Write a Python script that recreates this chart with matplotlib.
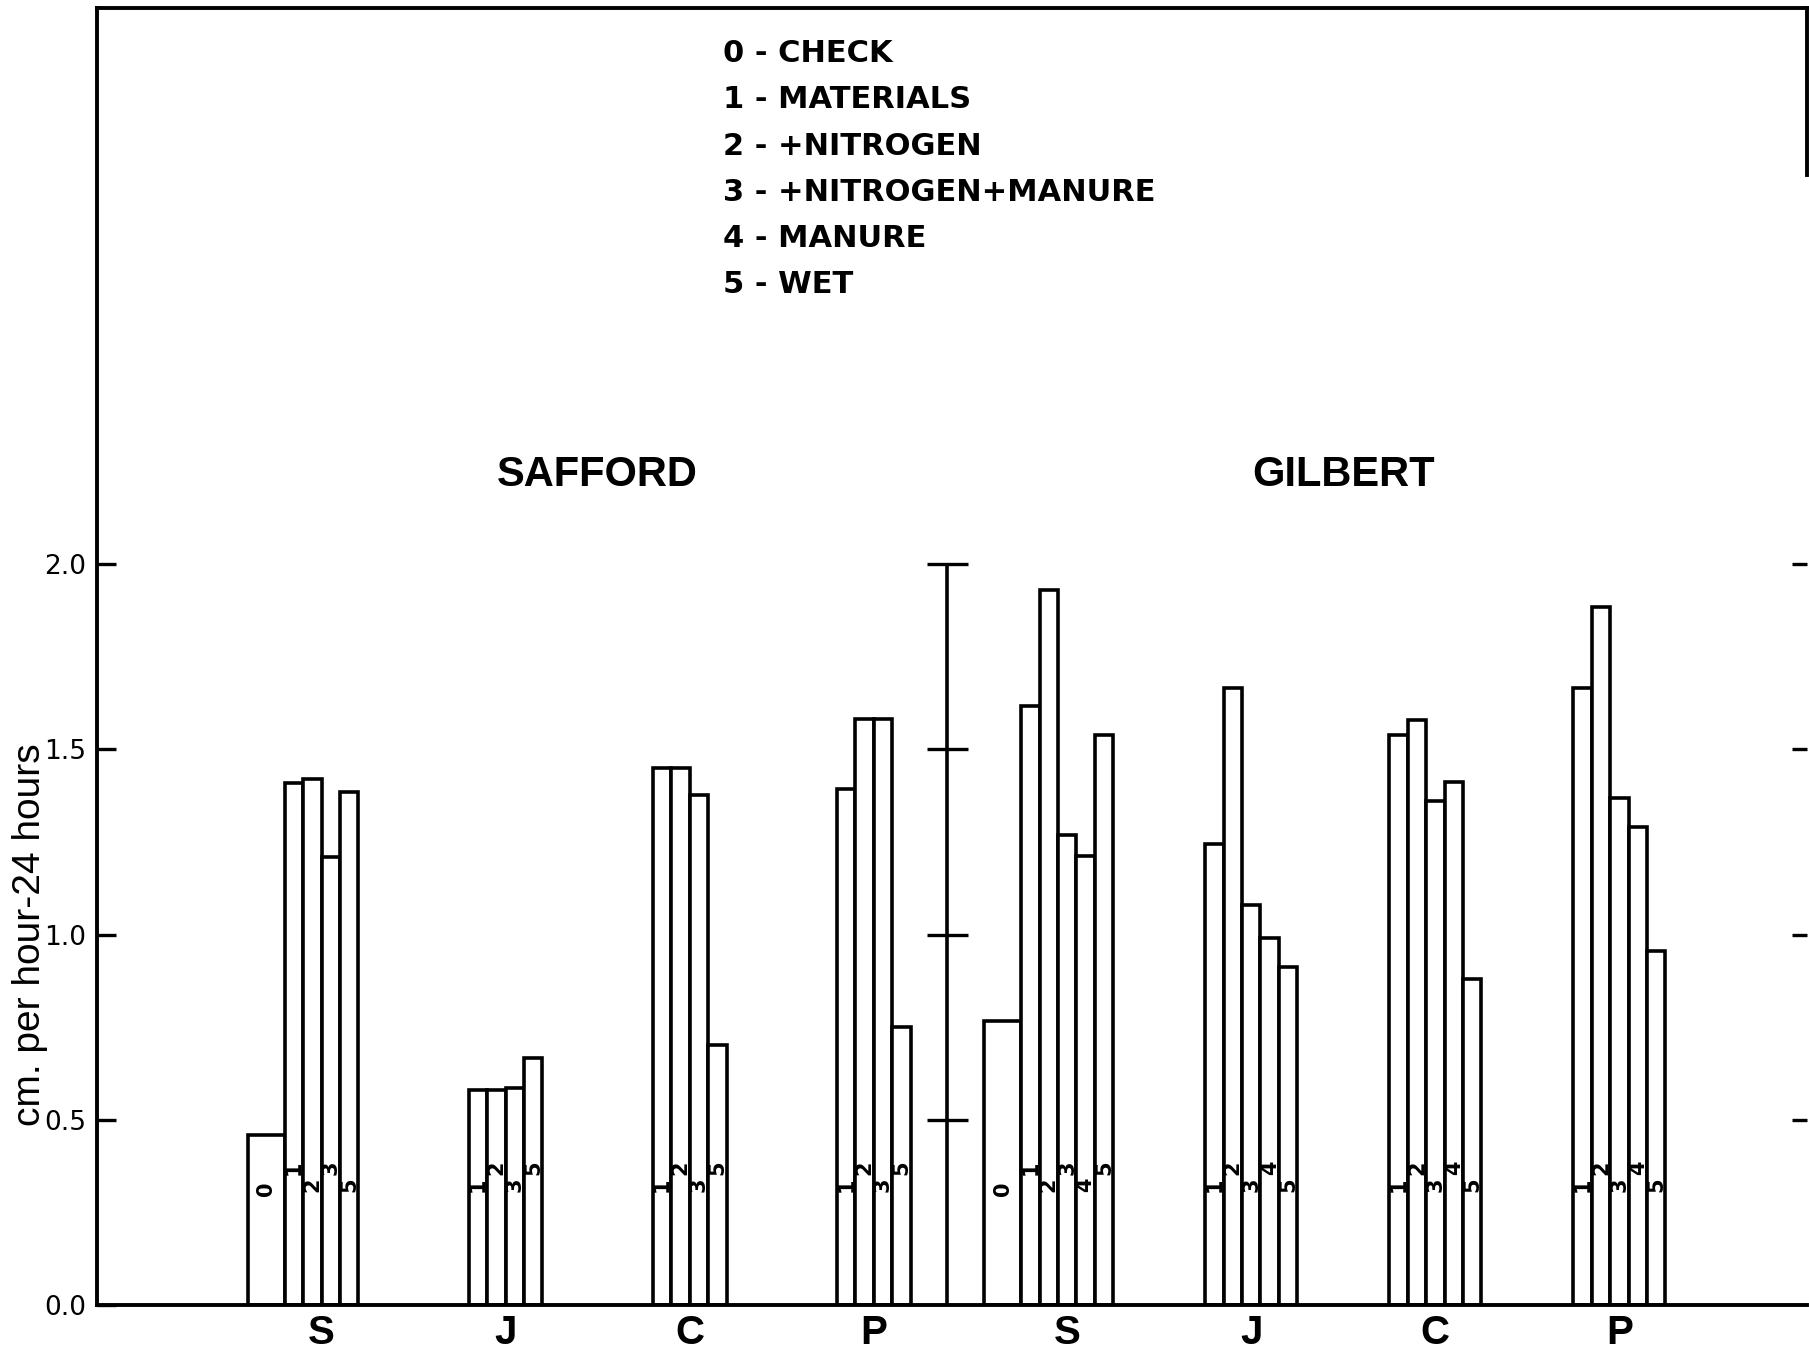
import matplotlib.pyplot as plt

# infiltration rates, cm per hour over 24 hours
sites = ["SAFFORD", "GILBERT"]
soils = ["S", "J", "C", "P"]
legend_lines = ["0 - CHECK", "1 - MATERIALS", "2 - +NITROGEN",
                "3 - +NITROGEN+MANURE", "4 - MANURE", "5 - WET"]

safford_treatments = [[0, 1, 2, 3, 5], [1, 2, 3, 5], [1, 2, 3, 5], [1, 2, 3, 5]]
safford_rates = [[0.46, 1.41, 1.42, 1.21, 1.385],
                 [0.582, 0.582, 0.587, 0.667],
                 [1.45, 1.45, 1.378, 0.703],
                 [1.393, 1.583, 1.583, 0.75]]

gilbert_treatments = [[0, 1, 2, 3, 4, 5], [1, 2, 3, 4, 5], [1, 2, 3, 4, 5], [1, 2, 3, 4, 5]]
gilbert_rates = [[0.766, 1.616, 1.93, 1.268, 1.212, 1.539],
                 [1.245, 1.665, 1.08, 0.99, 0.912],
                 [1.54, 1.58, 1.36, 1.413, 0.88],
                 [1.665, 1.885, 1.37, 1.29, 0.955]]

y_ticks = [0.0, 0.5, 1.0, 1.5, 2.0]
y_tick_labels = ["0.0", "0.5", "1.0", "1.5", "2.0"]
y_label = "cm. per hour-24 hours"

LW = 2.6
GROUP_STEP = 10

fig = plt.figure(figsize=(18.09, 13.56), dpi=100)
ax = fig.add_axes([0.0536, 0.0374, 0.9454, 0.9566])
ax.set_xlim(-10.2, 82.7)
ax.set_ylim(0, 3.5)

site_data = [(safford_treatments, safford_rates), (gilbert_treatments, gilbert_rates)]
centers = []
site_centers = []
site_spans = []
for s, (treats, rates) in enumerate(site_data):
    group_centers = []
    lo, hi = None, None
    for g, soil in enumerate(soils):
        start = (s * len(soils) + g) * GROUP_STEP
        phase = 0 if soil == "S" else 1
        j = 0
        for t, v in zip(treats[g], rates[g]):
            if t == 0:
                left, width = start - 2, 2
                ax.bar(left, v, width=width, align="edge", facecolor="white",
                       edgecolor="black", linewidth=LW, zorder=2)
                ax.text(left + width / 2, 0.315, str(t), rotation=90,
                        ha="center", va="center", fontsize=15,
                        fontweight="bold", zorder=3)
                lo = left if lo is None else min(lo, left)
                continue
            left = start + j
            ax.bar(left, v, width=1, align="edge", facecolor="white",
                   edgecolor="black", linewidth=LW, zorder=2)
            ly = 0.37 if (j + phase) % 2 == 0 else 0.325
            ax.text(left + 0.5, ly, str(t), rotation=90, ha="center",
                    va="center", fontsize=15, fontweight="bold", zorder=3)
            j += 1
        lo = start if lo is None else min(lo, start)
        hi = start + j
        group_centers.append(start + j / 2)
    centers.extend(group_centers)
    site_centers.append(sum(group_centers) / len(group_centers))
    site_spans.append((lo, hi))

# site titles
for name, cx in zip(sites, site_centers):
    ax.text(cx, 2.24, name, ha="center", va="center", fontsize=30,
            fontweight="bold", family="Liberation Sans")

# middle axis between the two sites
mid = (site_spans[0][1] + site_spans[1][0]) / 2
ax.vlines(mid, 0, max(y_ticks), color="black", linewidth=2.6, zorder=1)
ax.hlines(y_ticks[1:], mid - 1.1, mid + 1.1, color="black", linewidth=2.4)

# legend block
for k, line in enumerate(legend_lines):
    ax.text(23.8, 3.377 - 0.1246 * k, line, ha="left", va="center",
            fontsize=22, fontweight="bold")

# axes styling
ax.set_xticks(centers)
ax.set_xticklabels(soils * len(sites), fontsize=29, fontweight="bold",
                   family="Liberation Sans")
ax.tick_params(axis="x", length=0, pad=6)
ax.set_yticks(y_ticks)
ax.set_yticklabels(y_tick_labels, fontsize=19)
ax.tick_params(axis="y", direction="in", length=14, width=2.4, pad=8)

for side in ["left", "top", "bottom", "right"]:
    ax.spines[side].set_linewidth(2.8)
ax.spines["right"].set_bounds(3.05, 3.5)

sec = ax.secondary_yaxis("right")
sec.set_yticks(y_ticks[1:])
sec.tick_params(direction="in", length=11, width=2.4, labelright=False)
sec.spines["right"].set_visible(False)

fig.text(0.0165, 0.3107, y_label, rotation=90, ha="center", va="center",
         fontsize=28, family="Liberation Sans")

fig.savefig("out.png", dpi=100)
plt.close(fig)
